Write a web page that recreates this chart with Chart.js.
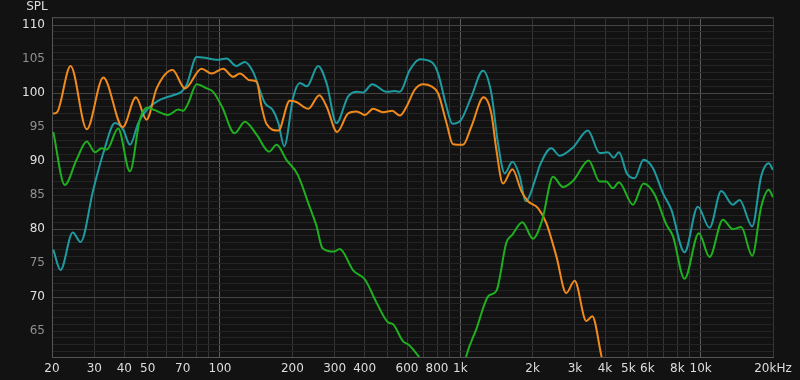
<!DOCTYPE html>
<html>
<head>
<meta charset="utf-8">
<script src="https://cdn.jsdelivr.net/npm/chart.js@4/dist/chart.umd.min.js"></script>
<style>
  html, body { margin: 0; padding: 0; background: #121212; }
  #spl { display: block; }
</style>
</head>
<body>
<canvas id="spl" width="800" height="380"></canvas>
<script>
// ===== DATA =====
const tealFreq = [20.25, 21.7, 24.4, 26.3, 29.7, 32.7, 36.6, 39.6, 42.2, 45.7, 49.5, 56.2, 63.8, 69.2, 72.6, 80, 86.5, 96.8, 106.5, 117, 127, 137, 154, 166, 175, 185, 202, 215, 230, 256, 278, 305, 341, 373, 394, 430, 493, 534, 560, 616, 678, 764, 808, 876, 927, 1004, 1112, 1242, 1346, 1435, 1530, 1647, 1766, 1870, 2072, 2138, 2392, 2590, 2942, 3396, 3800, 4112, 4344, 4570, 4932, 5310, 5788, 6324, 6964, 7546, 8570, 9730, 10890, 12180, 13616, 14520, 16390, 17860, 19210, 20000];
const tealSpl = [77.0, 74.0, 79.5, 78.1, 85.8, 91.2, 95.6, 94.6, 92.4, 95.6, 97.5, 99.0, 99.7, 100.2, 101.2, 105.3, 105.2, 104.9, 105.1, 104.0, 104.6, 103.2, 98.5, 97.5, 95.6, 92.2, 99.5, 101.5, 101.0, 104.0, 101.4, 95.6, 99.5, 100.2, 100.1, 101.3, 100.2, 100.3, 100.2, 103.4, 105.0, 104.5, 102.9, 98.0, 95.5, 96.0, 99.5, 103.3, 100.0, 92.6, 88.2, 89.9, 87.8, 84.1, 87.8, 89.3, 91.9, 90.8, 92.0, 94.5, 91.2, 91.3, 90.5, 91.3, 88.2, 87.5, 90.2, 89.0, 85.3, 82.9, 76.6, 83.3, 80.2, 85.6, 83.6, 84.3, 80.4, 87.8, 89.7, 88.7];

const orangeFreq = [20.2, 21.0, 23.9, 27.9, 32.7, 39.4, 44.7, 49.5, 54.5, 63.5, 71.5, 83.8, 92.3, 103, 113.5, 121, 133, 142, 149, 156, 175, 195, 208, 233, 259, 278, 307, 341, 370, 401, 434, 477, 521, 560, 597, 646, 700, 758, 808, 876, 932, 1026, 1112, 1250, 1346, 1412, 1505, 1647, 1795, 1912, 2104, 2280, 2510, 2760, 2990, 3344, 3540, 3862, 4000];
const orangeSpl = [97.0, 97.2, 104.0, 94.7, 102.3, 95.0, 99.4, 96.1, 100.7, 103.4, 100.7, 103.6, 102.9, 103.6, 102.4, 102.9, 101.9, 101.7, 98.0, 95.5, 94.5, 98.9, 98.7, 97.7, 99.7, 98.0, 94.3, 97.0, 97.3, 96.8, 97.7, 97.2, 97.4, 96.7, 98.0, 100.5, 101.3, 101.0, 100.0, 95.6, 92.5, 92.4, 95.1, 99.4, 97.0, 91.7, 86.7, 88.8, 85.6, 84.1, 83.1, 80.9, 76.0, 70.6, 72.4, 66.5, 67.2, 61.4, 59.0];

const greenFreq = [20.25, 22.6, 25.3, 27.9, 30.2, 32.2, 33.8, 37.7, 42.2, 46.4, 50, 53.6, 60.9, 67, 70.3, 73.7, 80, 88, 93.7, 102, 115, 127, 142, 160, 172, 189, 210, 236, 252, 267, 298, 315, 359, 401, 448, 500, 525, 578, 610, 667, 711, 1000, 1060, 1166, 1312, 1412, 1554, 1647, 1812, 2006, 2190, 2430, 2674, 2962, 3420, 3800, 4050, 4314, 4570, 5224, 5788, 6432, 7194, 7664, 8570, 9830, 10890, 12370, 13616, 14750, 16390, 17860, 19210, 20000];
const greenSpl = [94.3, 86.5, 90.2, 92.9, 91.3, 91.9, 91.7, 94.8, 88.5, 96.1, 97.9, 97.5, 96.8, 97.6, 97.4, 98.5, 101.3, 100.7, 100.2, 98.0, 94.1, 95.8, 93.9, 91.4, 92.4, 90.2, 88.1, 83.3, 80.5, 77.2, 76.7, 77.1, 73.9, 72.6, 69.2, 66.3, 66.0, 63.5, 63.0, 61.4, 60.0, 57.0, 61.4, 65.3, 70.2, 70.9, 78.0, 79.2, 81.0, 78.6, 81.3, 87.7, 86.2, 87.2, 90.1, 87.0, 87.0, 86.0, 86.9, 83.6, 86.7, 85.1, 80.7, 79.0, 72.7, 79.4, 75.9, 81.4, 80.0, 80.3, 76.1, 83.3, 85.8, 84.7];

const xGridFreqs = [20, 30, 40, 50, 60, 70, 80, 90, 100, 200, 300, 400, 500, 600, 700, 800, 900, 1000, 2000, 3000, 4000, 5000, 6000, 7000, 8000, 9000, 10000, 20000];
const xTickLabels = { 20: "20", 30: "30", 40: "40", 50: "50", 70: "70", 100: "100", 200: "200", 300: "300", 400: "400", 600: "600", 800: "800", 1000: "1k", 2000: "2k", 3000: "3k", 4000: "4k", 5000: "5k", 6000: "6k", 8000: "8k", 10000: "10k", 20000: "20kHz" };
const yMin = 61.2;
const yMax = 111.2;

const toPoints = (fs, vs) => fs.map((f, i) => ({ x: f, y: vs[i] }));

// ===== TITLE PLUGIN =====
const splTitle = {
  id: "splTitle",
  afterDraw(chart) {
    const ctx = chart.ctx;
    ctx.save();
    ctx.font = "12px 'DejaVu Sans'";
    ctx.fillStyle = "#dddddd";
    ctx.textAlign = "center";
    ctx.textBaseline = "middle";
    ctx.fillText("SPL", 37, 7);
    ctx.restore();
  },
};

const line = (label, color, data) => ({
  label,
  data,
  borderColor: color,
  borderWidth: 2,
  pointRadius: 0,
  cubicInterpolationMode: "monotone",
  clip: 0,
  fill: false,
});

new Chart(document.getElementById("spl").getContext("2d"), {
  type: "line",
  data: {
    datasets: [
      line("Green", "#1fb01f", toPoints(greenFreq, greenSpl)),
      line("Orange", "#f08a1c", toPoints(orangeFreq, orangeSpl)),
      line("Teal", "#1d9ba0", toPoints(tealFreq, tealSpl)),
    ],
  },
  options: {
    responsive: false,
    animation: false,
    layout: { padding: { left: 0, top: 17, right: 27, bottom: 0 } },
    plugins: { legend: { display: false }, tooltip: { enabled: false } },
    scales: {
      x: {
        type: "logarithmic",
        min: 20,
        max: 20000,
        afterBuildTicks: (scale) => {
          scale.ticks = xGridFreqs.map((v) => ({ value: v }));
        },
        afterFit: (scale) => { scale.height = 23; },
        ticks: {
          autoSkip: false,
          maxRotation: 0,
          padding: 5,
          color: "#dddddd",
          font: { family: "'DejaVu Sans'", size: 12 },
          callback: (value) => xTickLabels[value] || "",
        },
        grid: {
          drawTicks: false,
          color: (c) => ([100, 1000, 10000].includes(c.tick.value) ? "#5e5e5e" : "#363636"),
          lineWidth: 1,
        },
        border: { color: "#555555" },
      },
      y: {
        type: "linear",
        min: yMin,
        max: yMax,
        afterBuildTicks: (scale) => {
          const t = [];
          for (let v = 62; v <= 111; v++) t.push({ value: v });
          t.push({ value: yMax });
          scale.ticks = t;
        },
        afterFit: (scale) => { scale.width = 52; },
        ticks: {
          autoSkip: false,
          padding: 7,
          font: { family: "'DejaVu Sans'", size: 12 },
          color: (c) => (c.tick.value % 10 === 0 ? "#e0e0e0" : "#909090"),
          callback: (value) => (Number.isInteger(value) && value % 5 === 0 ? String(value) : ""),
        },
        grid: {
          drawTicks: false,
          color: (c) => {
            const v = c.tick.value;
            if (v === yMax) return "#444444";
            return v % 10 === 0 ? "#444444" : "#242424";
          },
        },
        border: { color: "#555555" },
      },
    },
  },
  plugins: [splTitle],
});
</script>
</body>
</html>
